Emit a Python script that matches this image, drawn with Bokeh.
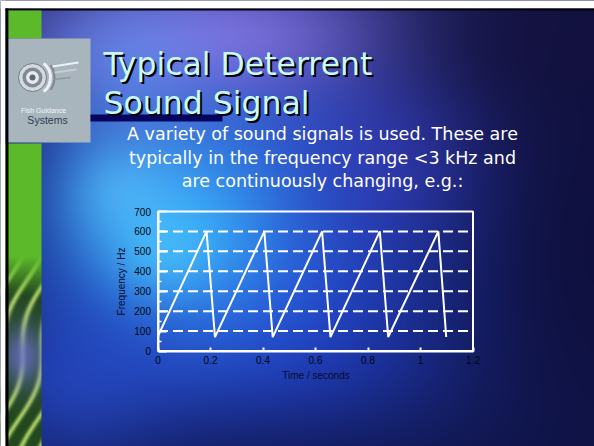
import numpy as np
from bokeh.plotting import figure
from bokeh.models import Range1d, LinearAxis, FixedTicker, NumeralTickFormatter, Label
from bokeh.embed import file_html
from bokeh.resources import INLINE

# ---------------- data ----------------
TIME_S = [0.0, 0.185, 0.217, 0.405, 0.437, 0.625, 0.657, 0.845, 0.877, 1.068, 1.098]
FREQ_HZ = [75, 600, 70, 600, 70, 600, 70, 600, 70, 600, 70]
X_TICKS = [0, 0.2, 0.4, 0.6, 0.8, 1.0, 1.2]
Y_TICKS = [0, 100, 200, 300, 400, 500, 600, 700]
X_LABEL = "Time / seconds"
Y_LABEL = "Frequency / Hz"
TITLE_LINES = ["Typical Deterrent", "Sound Signal"]
BODY_LINES = [
    "A variety of sound signals is used. These are",
    "typically in the frequency range <3 kHz and",
    "are continuously changing, e.g.:",
]
LOGO_TOP = "Fish Guidance"
LOGO_BOTTOM = "Systems"

# ---------------- layout ----------------
W, H = 594, 446


def fx(px):
    return px


def fy(py):
    return H - py


# chart frame in page pixels
CH_L, CH_R, CH_T, CH_B = 157.5, 472.5, 211, 350.5

p = figure(width=W, height=H, x_range=Range1d(0, W), y_range=Range1d(0, H),
           x_axis_type=None, y_axis_type=None, toolbar_location=None,
           output_backend="svg", min_border=0, outline_line_color=None)
p.background_fill_color = "#10123f"
p.border_fill_color = "#10123f"
p.grid.visible = False

# ---------------- background (decorative) ----------------
yy, xx = np.mgrid[0:H, 0:W].astype(float)
X = xx
Y = yy
img = np.zeros((H, W, 3))
img[:] = (16, 18, 66)
BLOBS = [
    (260, 280, 200, 160, (34, 66, 205), 1.0),
    (300, 120, 160, 90, (45, 85, 220), 0.7),
    (180, 225, 80, 75, (55, 170, 248), 0.95),
    (120, 190, 40, 40, (90, 200, 255), 0.6),
    (160, 255, 35, 30, (80, 210, 255), 0.5),
    (235, 35, 150, 45, (140, 122, 236), 0.85),
    (125, 65, 60, 50, (100, 150, 245), 0.6),
    (85, 405, 70, 70, (40, 80, 212), 0.7),
    (585, 235, 110, 220, (14, 14, 56), 0.85),
    (530, 45, 120, 80, (18, 16, 60), 0.8),
    (335, 470, 300, 45, (14, 20, 70), 0.6),
    (390, 155, 60, 60, (70, 60, 200), 0.35),
]
for cx, cy, sx, sy, col, a in BLOBS:
    w = a * np.exp(-(((X - cx) / sx) ** 2 + ((Y - cy) / sy) ** 2) / 2)
    img = img * (1 - w[..., None]) + np.array(col, float) * w[..., None]

# left textured strip
strip = (X < 41) & (Y > 142)
green = np.array((92, 186, 42), float)
dark = np.array((34, 72, 30), float)
light = np.array((170, 205, 100), float)
s = 0.5 + 0.5 * np.sin(0.33 * X + 0.11 * Y + 2.5 * np.sin(0.045 * Y))
pat = dark[None, None, :] * (1 - s[..., None] ** 4) + light[None, None, :] * s[..., None] ** 4
lav = np.exp(-(((X - 22) / 16) ** 2 + ((Y - 355) / 22) ** 2) / 2)
pat = pat * (1 - 0.8 * lav[..., None]) + np.array((105, 110, 200), float) * 0.8 * lav[..., None]
t = np.clip((Y - 255) / 40, 0, 1)[..., None]
stripcol = green * (1 - t) + pat * t
img = np.where(strip[..., None], stripcol, img)

img = np.clip(img, 0, 255).astype(np.uint8)
rgba = np.empty((H, W), dtype=np.uint32)
view = rgba.view(dtype=np.uint8).reshape((H, W, 4))
view[..., 0:3] = img
view[..., 3] = 255
p.image_rgba(image=[rgba[::-1]], x=0, y=0, dw=W, dh=H, level="image")

# slide decorations: page margin, border rules, green block, logo panel, navy bar
p.quad(left=[0, 0, fx(5), fx(5), fx(8), fx(8), fx(90)],
       right=[W, fx(5), W, fx(8), fx(41), fx(90), fx(222)],
       top=[H, H, fy(8), fy(8), fy(10), fy(38), fy(114)],
       bottom=[fy(8), 0, fy(10), 0, fy(38), fy(142), fy(121)],
       color=["#ffffff", "#ffffff", "#000000", "#000000", "#5cba2a", "#a9b5bd", "#06065e"],
       line_color=None)

# logo mark
LC = (fx(32), fy(77))
p.circle(x=[LC[0]] * 4, y=[LC[1]] * 4, radius=[14, 10, 6.5, 3],
         fill_color=["#d4dadf", "#7f8a94", "#e6eaee", "#5d6873"],
         line_color=["#6f7a84", None, None, None])
p.arc(x=[LC[0]] * 2, y=[LC[1]] * 2, radius=[18, 22], start_angle=[-0.9, -0.6],
      end_angle=[0.9, 0.6], line_color=["#eef1f4", "#7c8790"], line_width=[3, 2])
p.segment(x0=[fx(52), fx(54), fx(53)], y0=[fy(66), fy(72), fy(79)],
          x1=[fx(78), fx(76), fx(70)], y1=[fy(62), fy(69), fy(77)],
          line_color=["#eef1f4", "#c5ccd2", "#8c97a0"], line_width=[2, 2, 1.5])

# ---------------- chart (extra ranges map onto chart frame) ----------------
x0, x1 = X_TICKS[0], X_TICKS[-1]
y0, y1 = Y_TICKS[0], Y_TICKS[-1]
ppu_x = (fx(CH_R) - fx(CH_L)) / (x1 - x0)
ppu_y = (fy(CH_T) - fy(CH_B)) / (y1 - y0)
xs = x0 - fx(CH_L) / ppu_x
ys = y0 - fy(CH_B) / ppu_y
p.extra_x_ranges = {"t": Range1d(xs, xs + W / ppu_x)}
p.extra_y_ranges = {"f": Range1d(ys, ys + H / ppu_y)}

grid_vals = Y_TICKS[1:-1]
p.segment(x0=[x0] * len(grid_vals), x1=[x1] * len(grid_vals), y0=grid_vals, y1=grid_vals,
          line_color="white", line_width=2, line_dash="10 5",
          x_range_name="t", y_range_name="f")
p.line(TIME_S, FREQ_HZ, line_color="white", line_width=2,
       x_range_name="t", y_range_name="f")
p.quad(left=[x0], right=[x1], bottom=[y0], top=[y1], fill_color=None,
       line_color="white", line_width=2, x_range_name="t", y_range_name="f")

tick_font = "Liberation Sans"
xaxis = LinearAxis(x_range_name="t", y_range_name="f", fixed_location=y0,
                   bounds=(x0, x1),
                   ticker=FixedTicker(ticks=X_TICKS, minor_ticks=[]),
                   formatter=NumeralTickFormatter(format="0.[0]"),
                   axis_label=X_LABEL)
yminor = [(a + b) / 2 for a, b in zip(Y_TICKS[:-1], Y_TICKS[1:])]
yaxis = LinearAxis(x_range_name="t", y_range_name="f", fixed_location=x0,
                   bounds=(y0, y1),
                   ticker=FixedTicker(ticks=Y_TICKS, minor_ticks=yminor),
                   axis_label=Y_LABEL)
for ax in (xaxis, yaxis):
    ax.axis_line_color = "white"
    ax.axis_line_width = 2
    ax.major_tick_line_color = "white"
    ax.major_tick_line_width = 2
    ax.major_tick_out = 0
    ax.minor_tick_out = 0
    ax.minor_tick_line_color = "white"
    ax.minor_tick_line_width = 1.5
    ax.major_label_text_color = "#050510"
    ax.major_label_text_font = tick_font
    ax.major_label_text_font_size = "10px"
    ax.axis_label_text_font = tick_font
    ax.axis_label_text_font_size = "10px"
    ax.axis_label_text_font_style = "normal"
    ax.axis_label_text_color = "#0a0a2a"
xaxis.major_tick_in = 4
xaxis.minor_tick_in = 0
xaxis.major_label_standoff = 5
xaxis.axis_label_standoff = 2
yaxis.major_tick_in = 8
yaxis.minor_tick_in = 3
yaxis.major_label_standoff = 7
yaxis.axis_label_standoff = 5
p.add_layout(xaxis, "below")
p.add_layout(yaxis, "left")

# ---------------- texts ----------------
title_y = [fy(63), fy(102)]
for txt, ty in zip(TITLE_LINES, title_y):
    p.add_layout(Label(x=fx(103) + 2, y=ty - 2, text=txt, text_font="DejaVu Sans",
                       text_font_size="31.5px", text_color="#000000",
                       text_baseline="alphabetic"))
    p.add_layout(Label(x=fx(103), y=ty, text=txt, text_font="DejaVu Sans",
                       text_font_size="31.5px", text_color="#c8fafa",
                       text_baseline="alphabetic"))

body_y = [fy(133), fy(157), fy(180)]
for txt, by in zip(BODY_LINES, body_y):
    p.add_layout(Label(x=fx(322), y=by, text=txt, text_font="DejaVu Sans",
                       text_font_size="17.5px", text_color="white",
                       text_align="center", text_baseline="middle"))

p.add_layout(Label(x=fx(43), y=fy(110), text=LOGO_TOP, text_font="Liberation Sans",
                   text_font_size="7px", text_color="#f2f5f7",
                   text_align="center", text_baseline="middle"))
p.add_layout(Label(x=fx(47), y=fy(119), text=LOGO_BOTTOM, text_font="Liberation Sans",
                   text_font_size="10.5px", text_color="#2c3e50",
                   text_align="center", text_baseline="middle"))

open("out.html", "w").write(file_html(p, INLINE))
